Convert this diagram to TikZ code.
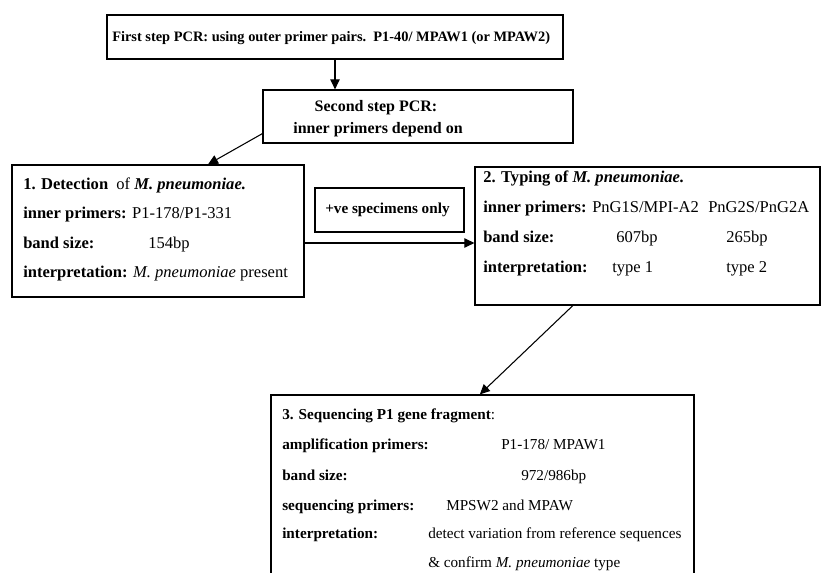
\documentclass[tikz,border=0pt]{standalone}
\usepackage{fontspec}
\setmainfont{Liberation Serif}
\usetikzlibrary{arrows.meta}

\begin{document}
\begin{tikzpicture}[x=0.75pt, y=-0.75pt,
        box/.style={rectangle, draw, line width=0.9pt, inner sep=0pt},
        txt/.style={anchor=base west, inner sep=0pt, font=\fontsize{12.4}{14}\selectfont},
        seqtxt/.style={txt, font=\fontsize{11.4}{13}\selectfont},
        arr/.style={line width=0.8pt, -{Triangle[length=7.5pt, width=7pt]}}
    ]
    \useasboundingbox (0,0) rectangle (821,573);
    \clip (0,0) rectangle (821,573);

    % boxes
    \node[box, minimum width=342pt, minimum height=33pt] (first) at (335,37) {};
    \node[box, minimum width=232.5pt, minimum height=39.75pt] (second) at (418,116.5) {};
    \node[box, minimum width=219pt, minimum height=99pt] (detect) at (158,231) {};
    \node[box, minimum width=111.75pt, minimum height=33pt] (posonly) at (389.5,210) {};
    \node[box, minimum width=258.75pt, minimum height=103.5pt] (typing) at (647.5,236) {};
    \node[box, minimum width=317.25pt, minimum height=153.75pt] (seq) at (482.5,497.5) {};

    % texts
    \node[txt, font=\fontsize{10.8}{13}\selectfont] (firsttxt) at (112,42) {\textbf{First step PCR: using outer primer pairs.\ \ P1-40/ MPAW1 (or MPAW2)}};
    \node[txt, anchor=base, font=\fontsize{12}{14}\selectfont] (secondtxta) at (376,112) {\textbf{Second step PCR:}};
    \node[txt, anchor=base, font=\fontsize{12}{14}\selectfont] (secondtxtb) at (378,134) {\textbf{inner primers depend on}};

    \node[txt] (dA) at (23,190) {\textbf{1. Detection}\ \ of \textbf{\textit{M. pneumoniae.}}};
    \node[txt] (dB) at (23,219) {\textbf{inner primers:} P1-178/P1-331};
    \node[txt] (dC) at (23,249) {\textbf{band size:}};
    \node[txt] (dCv) at (148,249) {154bp};
    \node[txt] (dD) at (23,278) {\textbf{interpretation:} \textit{M. pneumoniae} present};

    \node[txt, font=\fontsize{11.4}{13}\selectfont] (postxt) at (325,214) {\textbf{+ve specimens only}};

    \node[txt] (tA) at (483,183) {\textbf{2. Typing of \textit{M. pneumoniae.}}};
    \node[txt] (tB) at (483,213) {\textbf{inner primers:}};
    \node[txt] (tBa) at (592,213) {PnG1S/MPI-A2};
    \node[txt] (tBb) at (708,213) {PnG2S/PnG2A};
    \node[txt] (tC) at (483,243) {\textbf{band size:}};
    \node[txt] (tCa) at (616,243) {607bp};
    \node[txt] (tCb) at (726,243) {265bp};
    \node[txt] (tD) at (483,273) {\textbf{interpretation:}};
    \node[txt] (tDa) at (612,273) {type 1};
    \node[txt] (tDb) at (726,273) {type 2};

    \node[seqtxt] (sA) at (282,420) {\textbf{3. Sequencing P1 gene fragment}:};
    \node[seqtxt] (sB) at (282,450) {\textbf{amplification primers:}};
    \node[seqtxt] (sBv) at (501,450) {P1-178/ MPAW1};
    \node[seqtxt] (sC) at (282,480) {\textbf{band size:}};
    \node[seqtxt] (sCv) at (521,480) {972/986bp};
    \node[seqtxt] (sD) at (282,510) {\textbf{sequencing primers:}};
    \node[seqtxt] (sDv) at (446,510) {MPSW2 and MPAW};
    \node[seqtxt] (sE) at (282,538) {\textbf{interpretation:}};
    \node[seqtxt] (sEv) at (428,538) {detect variation from reference sequences};
    \node[seqtxt] (sFv) at (428,567) {\& confirm \textit{M. pneumoniae} type};

    % connectors
    \draw[arr] (first.south) -- (first.south |- second.north);
    \draw[arr] ([yshift=7.5pt]second.south west) -- ([xshift=37.5pt]detect.north);
    \draw[arr] ([yshift=-9pt]detect.east) -- ([yshift=-9pt]detect.east -| typing.west);
    \draw[arr] ([xshift=-56pt]typing.south) -- ([xshift=-2pt]seq.north);
\end{tikzpicture}
\end{document}
